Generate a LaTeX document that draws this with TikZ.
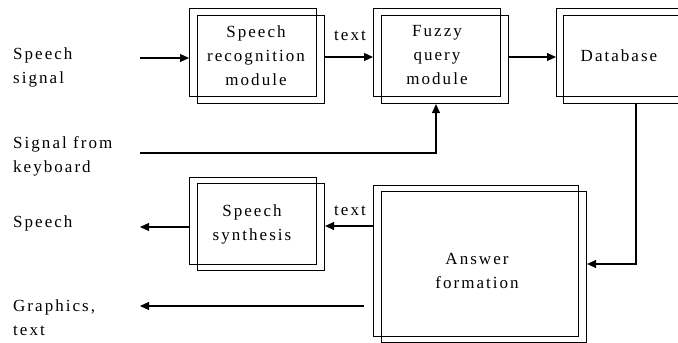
\documentclass[tikz,border=0pt]{standalone}
\usepackage{fontspec}
\setmainfont{Liberation Serif}[LetterSpace=12]
\usetikzlibrary{arrows.meta}
\begin{document}
\begin{tikzpicture}[x=1pt,y=-1pt,
  every node/.style={font=\fontsize{17}{24}\selectfont},
  box/.style={draw,line width=1.1pt,inner sep=0pt,anchor=north west,minimum width=127pt,minimum height=88pt},
  bigbox/.style={box,minimum width=205pt,minimum height=151pt},
  lbl/.style={align=center,anchor=base,inner sep=0pt},
  side/.style={align=left,anchor=base west,inner sep=0pt},
  conn/.style={line width=1.1pt,-{Triangle[length=9pt,width=8pt]}},
  plain/.style={line width=1.1pt}]
\useasboundingbox (0,0) rectangle (678,343);
% boxes
\node[box] (b1o) at (189,8) {};
\node[box] (b1i) at (197,15) {};
\node[box] (b2o) at (373,8) {};
\node[box] (b2i) at (381,15) {};
\node[box] (b3o) at (556,8) {};
\node[box] (b3i) at (563,15) {};
\node[box,minimum height=87pt] (b4o) at (189,177) {};
\node[box,minimum height=87pt] (b4i) at (197,183) {};
\node[bigbox] (b5o) at (373,185) {};
\node[bigbox] (b5i) at (381,191) {};
% box texts
\node[lbl] (t1) at (256,85) {Speech\\recognition\\module};
\node[lbl] (t2) at (437,84) {Fuzzy\\query\\module};
\node[lbl] (t3) at (619,61) {Database};
\node[lbl] (t4) at (252,240) {Speech\\synthesis};
\node[lbl] (t5) at (477,288) {Answer\\formation};
% side labels
\node[side] (l1) at (13,83) {Speech\\signal};
\node[side] (l2) at (13,172) {Signal from\\keyboard};
\node[side] (l3) at (13,227) {Speech};
\node[side] (l4) at (13,335) {Graphics,\\text};
\node[lbl] (x1) at (350,40) {text};
\node[lbl] (x2) at (350,215) {text};
% coordinates
\coordinate (s1) at (140,58);
\coordinate (k1) at (140,153);
\coordinate (kc) at (436,153);
\coordinate (dc) at (636,264);
\coordinate (o1) at (140,227);
\coordinate (g0) at (364,306);
\coordinate (g1) at (140,306);
% connectors
\draw[conn] (s1) -- (s1 -| b1o.west);
\draw[conn] (b1i.east |- 0,57) -- (b2o.west |- 0,57);
\draw[conn] (b2i.east |- 0,57) -- (b3o.west |- 0,57);
\draw[conn] (k1) -- (kc) -- (kc |- b2i.south);
\draw[conn] (dc |- b3i.south) -- (dc) -- (dc -| b5i.east);
\draw[conn] (b5o.west |- 0,226) -- (b4i.east |- 0,226);
\draw[conn] (b4o.west |- o1) -- (o1);
\draw[conn] (g0) -- (g1);
\end{tikzpicture}
\end{document}
